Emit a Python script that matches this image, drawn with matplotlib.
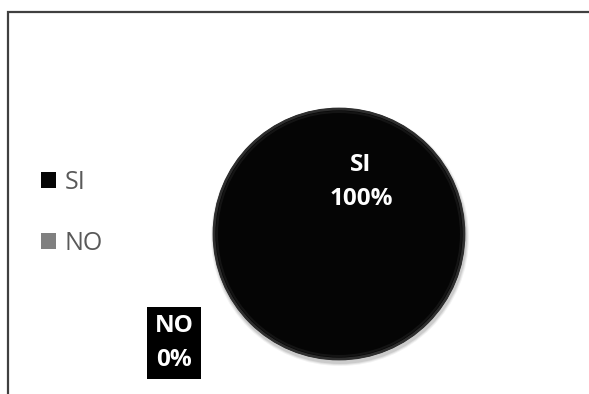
import matplotlib.pyplot as plt
from matplotlib.patches import Rectangle, Circle

labels = ['SI', 'NO']
values = [100, 0]
colors = ['#050505', '#808080']

W, H = 589, 394

fig = plt.figure(figsize=(W / 100, H / 100), dpi=100)
ax = fig.add_axes([0, 0, 1, 1])
ax.set_aspect('equal')

# outer frame (right and bottom run off the picture)
ax.add_patch(Rectangle((8, -20), 620, H - 12 + 20, fill=False,
                       edgecolor='#404040', linewidth=1.6))

cx, cy, r = 339, H - 234, 126

# soft shadow under the pie
for i, a in enumerate([0.05, 0.07, 0.09]):
    ax.add_patch(Circle((cx + 1, cy - 3), r + 3 - i, color='black', alpha=a, lw=0))

wedges, _ = ax.pie(values, colors=colors, center=(cx, cy), radius=r,
                   startangle=90, counterclock=False, frame=True,
                   wedgeprops=dict(linewidth=0))
# bevel rim
ax.add_patch(Circle((cx, cy), r - 1, fill=False, edgecolor='#2e2e2e', lw=2))
ax.add_patch(Circle((cx, cy), r - 4, fill=False, edgecolor='#141414', lw=1.5))

ax.set_xlim(0, W)
ax.set_ylim(0, H)
ax.axis('off')

total = sum(values)
pct = [f"{v / total * 100:.0f}%" for v in values]

lab_font = dict(family=['Open Sans', 'DejaVu Sans'], fontsize=17.5, fontweight='bold',
                color='white', ha='center', va='center', linespacing=1.55)
ax.text(361, H - 182, f"{labels[0]}\n{pct[0]}", **lab_font)
ax.text(174, H - 343, f"{labels[1]}\n{pct[1]}",
        bbox=dict(boxstyle='square,pad=0.3', facecolor='black', edgecolor='none'),
        **lab_font)

leg = ax.legend(wedges, labels, loc='center left', bbox_to_anchor=(18 / W, 1 - 213 / H),
                frameon=False, handlelength=0.6, handleheight=0.6,
                handletextpad=0.35, labelspacing=1.45, labelcolor='#595959',
                prop=dict(family=['Open Sans', 'DejaVu Sans'], size=18))

fig.savefig('out.png', dpi=100)
